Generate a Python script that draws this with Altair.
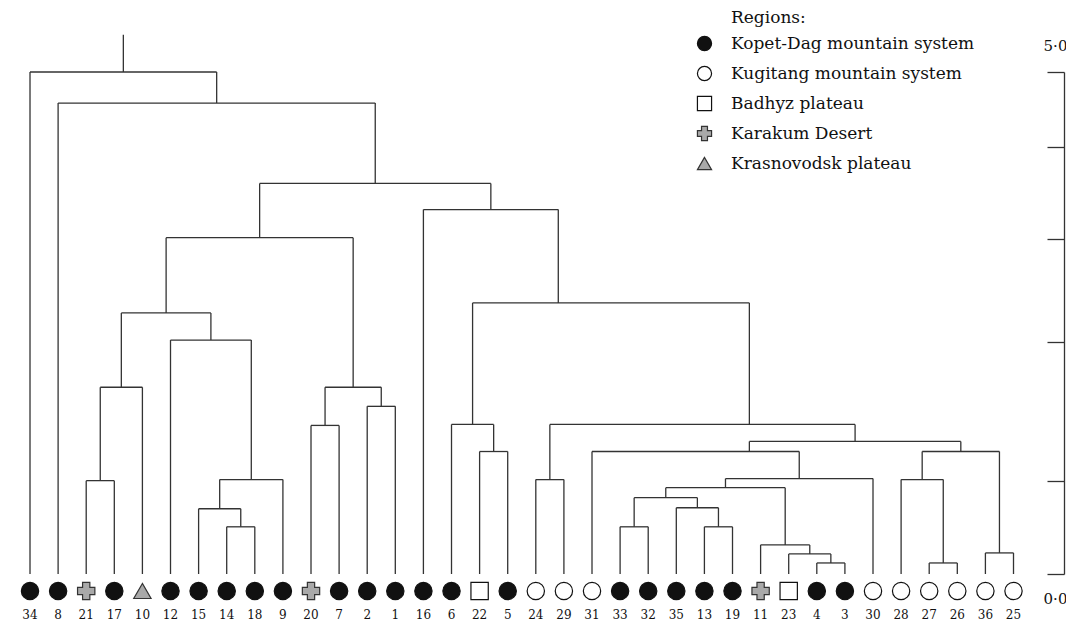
import altair as alt
import pandas as pd

FONT = "DejaVu Serif"

# ---- data ----
leaf_labels = ["34", "8", "21", "17", "10", "12", "15", "14", "18", "9", "20", "7",
               "2", "1", "16", "6", "22", "5", "24", "29", "31", "33", "32", "35",
               "13", "19", "11", "23", "4", "3", "30", "28", "27", "26", "36", "25"]
# K Kopet-Dag, G Kugitang, B Badhyz, D Karakum, T Krasnovodsk
leaf_region_codes = ["K", "K", "D", "K", "T", "K", "K", "K", "K", "K", "D", "K",
                     "K", "K", "K", "K", "B", "K", "G", "G", "G", "K", "K", "K",
                     "K", "K", "D", "B", "K", "K", "G", "G", "G", "G", "G", "G"]
region_codes = ["K", "G", "B", "D", "T"]
region_names = ["Kopet-Dag mountain system", "Kugitang mountain system",
                "Badhyz plateau", "Karakum Desert", "Krasnovodsk plateau"]
legend_heading = "Regions:"
region_fill = ["#111111", "#ffffff", "#ffffff", "#a9a9a9", "#a9a9a9"]
region_stroke = ["#111111", "#111111", "#111111", "#333333", "#333333"]
cross_path = "M-0.42,-1H0.42V-0.42H1V0.42H0.42V1H-0.42V0.42H-1V-0.42H-0.42Z"
region_shape = ["circle", "circle", "square", cross_path, "triangle-up"]

# (node, left child, right child, linkage distance)
merges = [
    ("n1", "21", "17", 0.93), ("n2", "n1", "10", 1.86),
    ("n3", "14", "18", 0.47), ("n4", "15", "n3", 0.65),
    ("n5", "n4", "9", 0.94), ("n6", "12", "n5", 2.33),
    ("n7", "n2", "n6", 2.60), ("n8", "20", "7", 1.48),
    ("n9", "2", "1", 1.67), ("n10", "n8", "n9", 1.86),
    ("n11", "n7", "n10", 3.35), ("n13", "22", "5", 1.22),
    ("n12", "6", "n13", 1.49), ("n14", "24", "29", 0.94),
    ("n15", "33", "32", 0.47), ("n16", "13", "19", 0.47),
    ("n17", "35", "n16", 0.66), ("n18", "n15", "n17", 0.76),
    ("n19", "4", "3", 0.11), ("n20", "23", "n19", 0.20),
    ("n21", "11", "n20", 0.29), ("n22", "n18", "n21", 0.86),
    ("n23", "n22", "30", 0.95), ("n24", "31", "n23", 1.22),
    ("n25", "27", "26", 0.11), ("n26", "28", "n25", 0.94),
    ("n27", "36", "25", 0.21), ("n28", "n26", "n27", 1.22),
    ("n29", "n24", "n28", 1.32), ("n30", "n14", "n29", 1.49),
    ("n31", "n12", "n30", 2.70), ("n32", "16", "n31", 3.63),
    ("n33", "n11", "n32", 3.89), ("n34", "8", "n33", 4.69),
    ("n35", "34", "n34", 5.00),
]
# nodes drawn off the midpoint of their children (position in leaf units)
offcentre_nodes = {"n24": 25.6, "n30": 25.6, "n31": 18.8}
root_stem_top = 5.37
axis_ticks = [0.0, 0.93, 2.31, 3.34, 4.25, 5.0]

# ---- build tables ----
pos = {lab: float(i) for i, lab in enumerate(leaf_labels)}
hgt = {lab: 0.0 for lab in leaf_labels}
segs = []
for name, l, r, h in merges:
    xl, xr = pos[l], pos[r]
    segs.append({"x": xl, "x2": xr, "y": h, "y2": h})
    segs.append({"x": xl, "x2": xl, "y": hgt[l], "y2": h})
    segs.append({"x": xr, "x2": xr, "y": hgt[r], "y2": h})
    pos[name] = offcentre_nodes.get(name, (xl + xr) / 2)
    hgt[name] = h
root = merges[-1][0]
segs.append({"x": pos[root], "x2": pos[root], "y": hgt[root], "y2": root_stem_top})
seg_df = pd.DataFrame(segs)

code_to_name = dict(zip(region_codes, region_names))
leaf_df = pd.DataFrame({
    "x": [float(i) for i in range(len(leaf_labels))],
    "y": 0.0,
    "label": leaf_labels,
    "region": [code_to_name[c] for c in leaf_region_codes],
})
heading_df = pd.DataFrame({"t": [legend_heading]})

# ---- chart ----
W, H = 1054, 502
xscale = alt.Scale(domain=[-0.712, 36.797], nice=False, zero=False)
yscale = alt.Scale(domain=[0, 5], nice=False, zero=False)
yaxis = alt.Axis(
    orient="left", offset=-W, values=axis_ticks, grid=False, title=None,
    tickSize=17, tickColor="#333333", tickWidth=1.3,
    domainColor="#333333", domainWidth=1.3,
    labelExpr="datum.value == 5 ? '5·0' : (datum.value == 0 ? '0·0' : '')",
    labelFont=FONT, labelFontSize=15, labelColor="#111111",
    labelAlign="center", labelBaseline="middle", labelPadding=-8,
    labelOverlap=False,
    labelOffset=alt.condition("datum.value == 5", alt.value(-27), alt.value(24)),
)
leg = alt.Legend(
    title=None, orient="none", legendX=686, legendY=-37,
    labelFont=FONT, labelFontSize=17, labelColor="#111111", labelLimit=400,
    symbolSize=200, symbolStrokeWidth=1.2,
    rowPadding=11, labelOffset=18,
)

X = alt.X("x:Q", scale=xscale, axis=None)
Y = alt.Y("y:Q", scale=yscale, axis=yaxis)

rules = alt.Chart(seg_df).mark_rule(color="#333333", strokeWidth=1.3).encode(
    x=X, x2="x2:Q", y=Y, y2="y2:Q"
)
points = alt.Chart(leaf_df).mark_point(
    filled=False, size=300, strokeWidth=1.2,
    opacity=1, fillOpacity=1, strokeOpacity=1, yOffset=17
).encode(
    x=X, y=Y,
    fill=alt.Fill("region:N", scale=alt.Scale(domain=region_names, range=region_fill), legend=leg),
    stroke=alt.Stroke("region:N", scale=alt.Scale(domain=region_names, range=region_stroke), legend=leg),
    shape=alt.Shape("region:N", scale=alt.Scale(domain=region_names, range=region_shape), legend=leg),
)
labels = alt.Chart(leaf_df).mark_text(
    font=FONT, fontSize=12, dy=41, color="#111111"
).encode(x=X, y=Y, text="label:N")
heading = alt.Chart(heading_df).mark_text(
    font=FONT, fontSize=17, align="left", baseline="middle", color="#111111"
).encode(x=alt.value(721), y=alt.value(-54), text="t:N")

chart = alt.layer(rules, points, labels, heading).properties(
    width=W, height=H,
    padding={"left": 2, "top": 64, "right": 2, "bottom": 47},
    autosize=alt.AutoSizeParams(type="none"),
).configure_view(stroke=None)

chart.save("out.html", embed_options={"renderer": "svg", "actions": False})
